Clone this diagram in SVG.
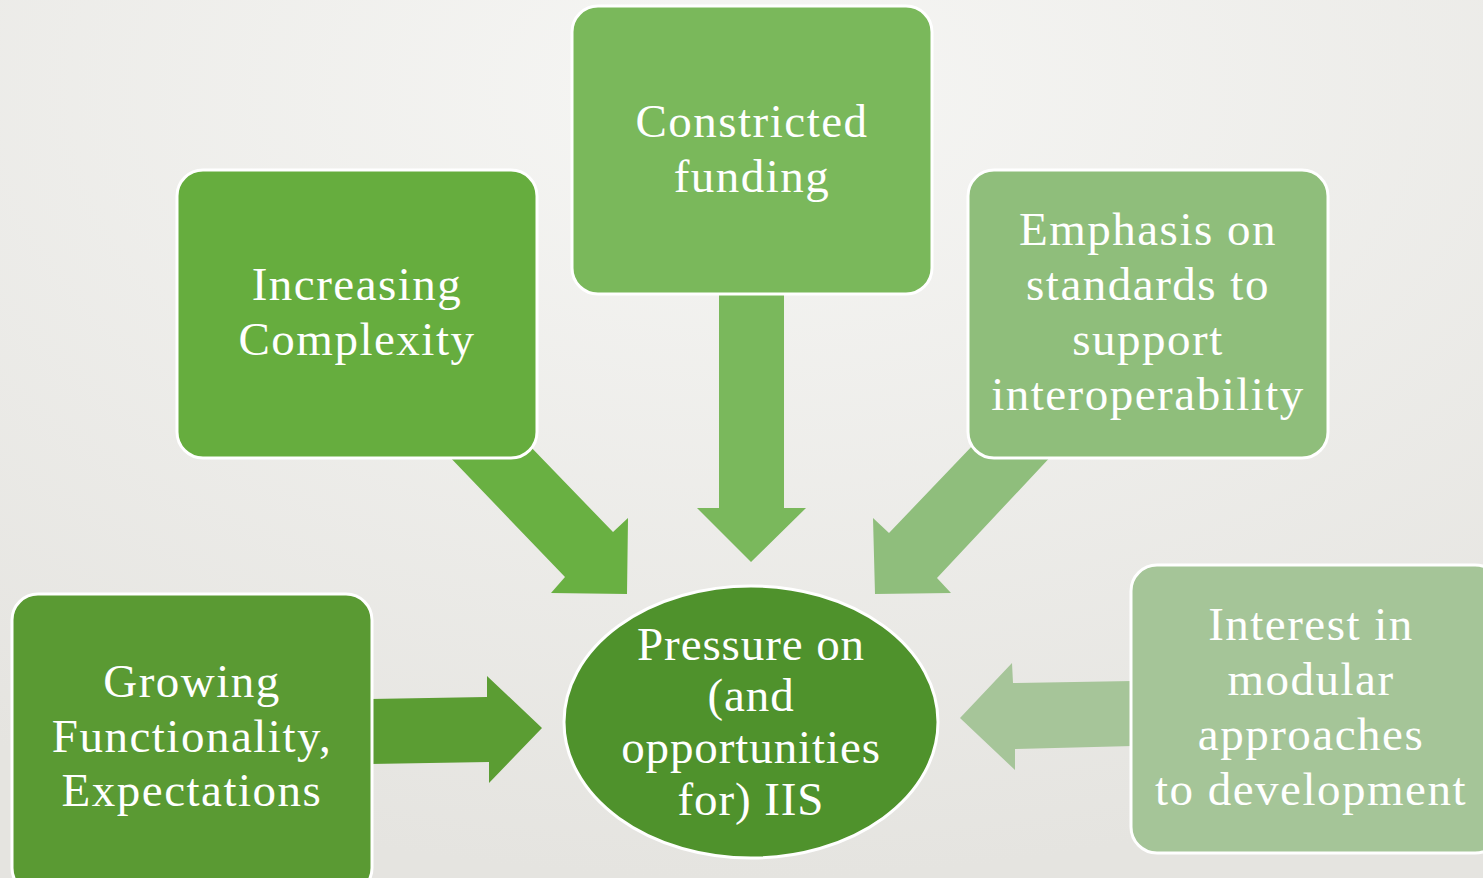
<svg xmlns="http://www.w3.org/2000/svg" width="1483" height="878" viewBox="0 0 1483 878">
<defs>
<radialGradient id="bg" cx="0.5" cy="0.1" r="0.9">
<stop offset="0" stop-color="#f6f6f4"/>
<stop offset="1" stop-color="#e5e4e0"/>
</radialGradient>
</defs>
<style>
.box{stroke:#ffffff;stroke-width:3}
.t{font-family:"Liberation Serif","Times New Roman",serif;font-size:47px;letter-spacing:1.5px;fill:#ffffff;text-anchor:middle}
.e{letter-spacing:0.9px}
</style>
<rect x="0" y="0" width="1483" height="878" fill="url(#bg)"/>
<g id="connectors">
<polygon points="445,452 527,443 613,532 628,518 627,594 551,593 565,577" fill="#69b042"/>
<polygon points="719,290 784,290 784,508 806,508 751,562 697,508 719,508" fill="#7ab85c"/>
<polygon points="975,443 1055,452 937,578 951,593 875,594 873,518 889,533" fill="#8fbe7c"/>
<polygon points="370,699 487,697 487,676 542,728 489,783 489,762 370,764" fill="#5b9d33"/>
<polygon points="960,718 1012,663 1013,683 1133,681 1133,746 1015,749 1015,770" fill="#a6c599"/>
</g>
<g id="increasing">
<rect class="box" x="177" y="170" width="360" height="288" rx="26" fill="#66ad3e"/>
<text class="t" x="357" y="300">Increasing</text>
<text class="t" x="357" y="355">Complexity</text>
</g>
<g id="constricted">
<rect class="box" x="572" y="6" width="360" height="288" rx="26" fill="#7ab85b"/>
<text class="t" x="752" y="137">Constricted</text>
<text class="t" x="752" y="192">funding</text>
</g>
<g id="emphasis">
<rect class="box" x="968" y="170" width="360" height="288" rx="26" fill="#8fbe7b"/>
<text class="t" x="1148" y="245">Emphasis on</text>
<text class="t" x="1148" y="300">standards to</text>
<text class="t" x="1148" y="355">support</text>
<text class="t" x="1148" y="410">interoperability</text>
</g>
<g id="growing">
<rect class="box" x="12" y="594" width="360" height="300" rx="26" fill="#5a9a33"/>
<text class="t" x="192" y="697">Growing</text>
<text class="t" x="192" y="752">Functionality,</text>
<text class="t" x="192" y="806">Expectations</text>
</g>
<g id="interest">
<rect class="box" x="1131" y="565" width="370" height="288" rx="26" fill="#a5c598"/>
<text class="t" x="1311" y="640">Interest in</text>
<text class="t" x="1311" y="695">modular</text>
<text class="t" x="1311" y="750">approaches</text>
<text class="t" x="1311" y="805">to development</text>
</g>
<g id="pressure">
<ellipse class="box" cx="751" cy="722" rx="187" ry="136" fill="#4f922c"/>
<text class="t e" x="751" y="660">Pressure on</text>
<text class="t e" x="751" y="711">(and</text>
<text class="t e" x="751" y="763">opportunities</text>
<text class="t e" x="751" y="815">for) IIS</text>
</g>
</svg>
